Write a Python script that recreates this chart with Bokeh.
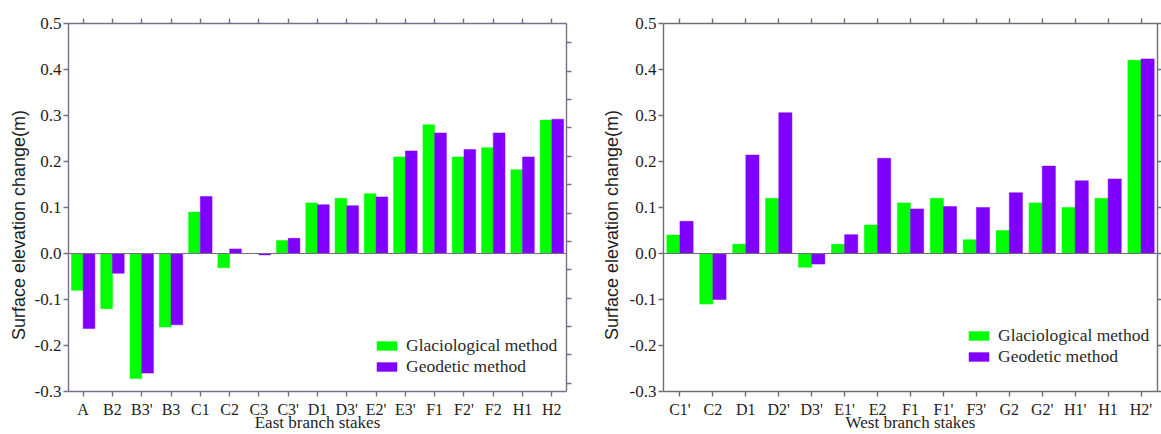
import numpy as np
from bokeh.plotting import figure
from bokeh.models import (FactorRange, Range1d, LinearAxis, CategoricalAxis, FixedTicker,
                          Legend, LegendItem, Span, ColumnDataSource, NumeralTickFormatter)
from bokeh.layouts import row
from bokeh.transform import dodge
from bokeh.embed import file_html
from bokeh.resources import INLINE

# ---------------- data ----------------
east_stakes = ["A", "B2", "B3'", "B3", "C1", "C2", "C3", "C3'", "D1", "D3'",
               "E2'", "E3'", "F1", "F2'", "F2", "H1", "H2"]
east_glacio = [-0.08, -0.12, -0.272, -0.16, 0.09, -0.031, 0.0, 0.028, 0.11, 0.12,
               0.13, 0.21, 0.28, 0.21, 0.23, 0.182, 0.29]
east_geod = [-0.163, -0.043, -0.26, -0.155, 0.124, 0.01, -0.003, 0.033, 0.106, 0.104,
             0.123, 0.223, 0.262, 0.226, 0.262, 0.21, 0.292]

west_stakes = ["C1'", "C2", "D1", "D2'", "D3'", "E1'", "E2", "F1", "F1'", "F3'",
               "G2", "G2'", "H1'", "H1", "H2'"]
west_glacio = [0.04, -0.11, 0.02, 0.12, -0.03, 0.02, 0.062, 0.11, 0.12, 0.03,
               0.05, 0.11, 0.1, 0.12, 0.42]
west_geod = [0.07, -0.1, 0.214, 0.306, -0.023, 0.041, 0.207, 0.097, 0.102, 0.1,
             0.132, 0.19, 0.158, 0.162, 0.423]

y_ticks = [-0.3, -0.2, -0.1, 0.0, 0.1, 0.2, 0.3, 0.4, 0.5]
series_names = ["Glaciological method", "Geodetic method"]
y_title = "Surface elevation change(m)"
# trailing no-break spaces push the (centred) rotated title downward, as in the original
y_title_padded = y_title + "\u00a0" * 7

GREEN = "#00ff00"
PURPLE = "#8000ff"
SERIF = "Liberation Serif"
SANS = "Liberation Sans"
TXT = "#1e1e1e"

H = 434
TOP, BOTTOM = 23, 41
Y0, Y1 = -0.3, 0.5


def style_axis(ax, color, tick_out=5):
    ax.axis_line_color = color
    ax.axis_line_width = 1.4
    ax.major_tick_line_color = color
    ax.major_tick_line_width = 1.4
    ax.major_tick_out = tick_out
    ax.major_tick_in = 0
    ax.minor_tick_line_color = None


def make_panel(stakes, glacio, geod, width, left, right, axis_color, right_ticks,
               xtitle, legend_xy, ytitle_standoff, right_tick_out=5):
    src = ColumnDataSource(dict(stake=stakes, glacio=glacio, geod=geod))
    p = figure(x_range=FactorRange(factors=stakes, range_padding=0),
               y_range=Range1d(Y0, Y1), width=width, height=H,
               output_backend="svg", toolbar_location=None,
               min_border_left=left, min_border_right=right,
               min_border_top=TOP, min_border_bottom=BOTTOM)
    p.outline_line_color = None
    p.xgrid.visible = False
    p.ygrid.visible = False
    p.background_fill_color = "white"
    p.border_fill_color = "white"

    p.add_layout(Span(location=0, dimension="width", line_color=axis_color, line_width=1.2))

    r1 = p.vbar(x=dodge("stake", -0.2, range=p.x_range), top="glacio", width=0.4, bottom=0,
                source=src, fill_color=GREEN, line_color=GREEN, line_width=0.5)
    r2 = p.vbar(x=dodge("stake", 0.2, range=p.x_range), top="geod", width=0.4, bottom=0,
                source=src, fill_color=PURPLE, line_color=PURPLE, line_width=0.5)

    # bottom axis
    xa = p.xaxis[0]
    style_axis(xa, axis_color)
    xa.major_label_text_font = SERIF
    xa.major_label_text_font_size = "16px"
    xa.major_label_text_color = TXT
    xa.major_label_standoff = 4
    xa.axis_label = xtitle
    xa.axis_label_text_font = SERIF
    xa.axis_label_text_font_size = "17px"
    xa.axis_label_text_font_style = "normal"
    xa.axis_label_text_color = TXT
    xa.axis_label_standoff = -8

    # left axis
    ya = p.yaxis[0]
    style_axis(ya, axis_color)
    ya.ticker = FixedTicker(ticks=y_ticks)
    ya.formatter = NumeralTickFormatter(format="0.0")
    ya.major_label_text_font = SERIF
    ya.major_label_text_font_size = "17px"
    ya.major_label_text_color = TXT
    ya.major_label_standoff = 2
    ya.axis_label = y_title_padded
    ya.axis_label_text_font = SANS
    ya.axis_label_text_font_size = "18px"
    ya.axis_label_text_font_style = "normal"
    ya.axis_label_text_color = TXT
    ya.axis_label_standoff = ytitle_standoff

    # top axis (ticks only)
    ta = CategoricalAxis(major_label_text_font_size="0px", major_label_standoff=0,
                         major_label_text_color=None)
    style_axis(ta, axis_color)
    p.add_layout(ta, "above")

    # right axis (ticks only)
    ra = LinearAxis(ticker=FixedTicker(ticks=right_ticks), major_label_text_font_size="0px",
                    major_label_standoff=0, major_label_text_color=None)
    style_axis(ra, axis_color, tick_out=right_tick_out)
    p.add_layout(ra, "right")

    legend = Legend(items=[LegendItem(label=series_names[0], renderers=[r1]),
                           LegendItem(label=series_names[1], renderers=[r2])],
                    location=legend_xy)
    legend.background_fill_alpha = 0
    legend.border_line_color = None
    legend.padding = 0
    legend.margin = 0
    legend.spacing = 0
    legend.label_height = 20
    legend.glyph_height = 11
    legend.glyph_width = 25
    legend.label_standoff = 7
    legend.label_text_font = SERIF
    legend.label_text_font_size = "17.5px"
    legend.label_text_color = "#2a2a2a"
    p.add_layout(legend)
    return p


left_right_ticks = list(np.linspace(0.458, -0.282, 13))

p1 = make_panel(east_stakes, east_glacio, east_geod, width=598, left=68, right=32,
                axis_color="#7a6b8c", right_ticks=left_right_ticks,
                xtitle="East branch stakes", legend_xy=(306, 14), ytitle_standoff=3)
p2 = make_panel(west_stakes, west_glacio, west_geod, width=563, left=62, right=4,
                axis_color="#6f6c78", right_ticks=y_ticks,
                xtitle="West branch stakes", legend_xy=(303, 24), ytitle_standoff=5,
                right_tick_out=4)

layout = row(p1, p2)
open("out.html", "w").write(file_html(layout, INLINE))
